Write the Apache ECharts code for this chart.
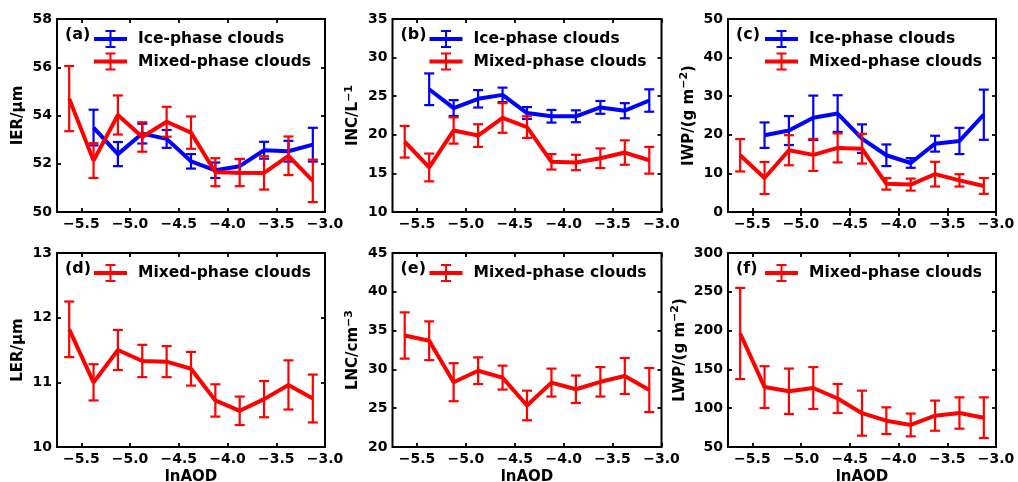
<!DOCTYPE html>
<html>
<head>
<meta charset="utf-8">
<script src="https://cdn.jsdelivr.net/npm/echarts@6/dist/echarts.min.js"></script>
<style>
  html, body { margin: 0; padding: 0; background: #fff; }
  #chart { width: 1018px; height: 482px; }
</style>
</head>
<body>
<div id="chart"></div>
<script>
// Bin centres of ln(AOD) and the tick labels shown on every x axis
const lnAOD = [-5.625, -5.375, -5.125, -4.875, -4.625, -4.375, -4.125, -3.875, -3.625, -3.375, -3.125];
const xTicks = [-5.5, -5.0, -4.5, -4.0, -3.5, -3.0];

// (a) ice effective radius, µm
const ierIce      = [null, 53.50, 52.40, 53.25, 53.03, 52.10, 51.73, 51.90, 52.56, 52.52, 52.79];
const ierIceErr   = [null, 0.74, 0.50, 0.41, 0.37, 0.30, 0.32, 0.30, 0.35, 0.43, 0.70];
const ierMixed    = [54.70, 52.13, 54.02, 53.11, 53.74, 53.29, 51.65, 51.63, 51.62, 52.33, 51.29];
const ierMixedErr = [1.35, 0.72, 0.81, 0.61, 0.62, 0.67, 0.58, 0.56, 0.69, 0.80, 0.88];

// (b) ice number concentration, L^-1
const incIce      = [null, 25.90, 23.46, 24.66, 25.17, 22.82, 22.40, 22.40, 23.55, 23.12, 24.44];
const incIceErr   = [null, 2.05, 1.03, 1.13, 0.94, 0.77, 0.82, 0.77, 0.83, 0.98, 1.45];
const incMixed    = [19.10, 15.77, 20.56, 19.90, 22.18, 21.00, 16.50, 16.41, 16.97, 17.70, 16.70];
const incMixedErr = [2.05, 1.80, 1.70, 1.47, 1.92, 1.40, 1.00, 1.00, 1.27, 1.58, 1.73];

// (c) ice water path, g m^-2
const iwpIce      = [null, 19.9, 21.1, 24.4, 25.5, 19.0, 14.7, 12.7, 17.7, 18.4, 25.2];
const iwpIceErr   = [null, 3.3, 3.75, 5.75, 4.75, 3.7, 2.8, 1.25, 2.05, 3.4, 6.5];
const iwpMixed    = [14.7, 8.8, 16.0, 14.8, 16.6, 16.4, 7.3, 7.1, 9.8, 8.2, 6.75];
const iwpMixedErr = [4.2, 4.15, 3.9, 4.15, 3.75, 3.85, 1.5, 1.55, 3.2, 1.6, 2.05];

// (d) liquid effective radius, µm
const lerMixed    = [11.82, 11.00, 11.50, 11.33, 11.32, 11.21, 10.72, 10.56, 10.74, 10.96, 10.75];
const lerMixedErr = [0.43, 0.28, 0.31, 0.25, 0.24, 0.26, 0.25, 0.22, 0.28, 0.38, 0.37];

// (e) liquid number concentration, cm^-3
const lncMixed    = [34.37, 33.69, 28.35, 29.83, 28.94, 25.35, 28.30, 27.44, 28.40, 29.15, 27.34];
const lncMixedErr = [2.98, 2.50, 2.45, 1.72, 1.54, 1.91, 1.80, 1.77, 1.90, 2.32, 2.84];

// (f) liquid water path, g m^-2
const lwpMixed    = [196.3, 127.2, 121.8, 126.0, 112.5, 93.6, 83.9, 78.4, 90.4, 93.8, 87.8];
const lwpMixedErr = [58.7, 26.9, 29.3, 27.0, 18.7, 29.0, 17.2, 14.7, 19.4, 20.2, 26.2];

const ICE = 'Ice-phase clouds';
const MIXED = 'Mixed-phase clouds';
const BLUE = '#0000ff';
const RED = '#ff0000';
const FONT = '"DejaVu Sans", sans-serif';

// y-axis titles; {s|...} marks a superscript run
const panels = [
  { tag: '(a)', yName: 'IER/μm', yMin: 50, yMax: 58, yStep: 2,
    lines: [{ name: ICE, color: BLUE, v: ierIce, e: ierIceErr }, { name: MIXED, color: RED, v: ierMixed, e: ierMixedErr }] },
  { tag: '(b)', yName: 'INC/L{s|\u22121}', yMin: 10, yMax: 35, yStep: 5,
    lines: [{ name: ICE, color: BLUE, v: incIce, e: incIceErr }, { name: MIXED, color: RED, v: incMixed, e: incMixedErr }] },
  { tag: '(c)', yName: 'IWP/(g m{s|\u22122})', yMin: 0, yMax: 50, yStep: 10,
    lines: [{ name: ICE, color: BLUE, v: iwpIce, e: iwpIceErr }, { name: MIXED, color: RED, v: iwpMixed, e: iwpMixedErr }] },
  { tag: '(d)', yName: 'LER/μm', yMin: 10, yMax: 13, yStep: 1,
    lines: [{ name: MIXED, color: RED, v: lerMixed, e: lerMixedErr }] },
  { tag: '(e)', yName: 'LNC/cm{s|\u22123}', yMin: 20, yMax: 45, yStep: 5,
    lines: [{ name: MIXED, color: RED, v: lncMixed, e: lncMixedErr }] },
  { tag: '(f)', yName: 'LWP/(g m{s|\u22122})', yMin: 50, yMax: 300, yStep: 50,
    lines: [{ name: MIXED, color: RED, v: lwpMixed, e: lwpMixedErr }] }
];

// plot-area boxes, 3 columns x 2 rows
const colLeft = [57, 392.5, 728];
const colWidth = [268, 269, 268];
const rowTop = [19, 253];
const rowHeight = [193, 194];

// legend glyph: horizontal line crossed by a capped error bar (33 x 18 box)
const errIcon = 'path://M0,7.1h33v3.8h-33z M15.5,0h2v18h-2z M11.5,0h10v2h-10z M11.5,16h10v2h-10z';

function fmtX(v) {
  return (v < 0 ? '\u2212' : '') + Math.abs(v).toFixed(1);
}

function errorBars(color) {
  return function (params, api) {
    const x = api.value(0);
    const lo = api.coord([x, api.value(1)]);
    const hi = api.coord([x, api.value(2)]);
    const cap = 5;
    const style = { stroke: color, lineWidth: 2.2, fill: null };
    return {
      type: 'group',
      children: [
        { type: 'line', shape: { x1: lo[0], y1: lo[1], x2: hi[0], y2: hi[1] }, style },
        { type: 'line', shape: { x1: lo[0] - cap, y1: lo[1], x2: lo[0] + cap, y2: lo[1] }, style },
        { type: 'line', shape: { x1: hi[0] - cap, y1: hi[1], x2: hi[0] + cap, y2: hi[1] }, style }
      ]
    };
  };
}

const grid = [], xAxis = [], yAxis = [], series = [], legend = [], title = [];
const tickStyle = { inside: true, length: 4, lineStyle: { color: '#000', width: 1.8 } };
const nameStyle = {
  fontFamily: FONT, fontWeight: 'bold', fontSize: 15, color: '#000', lineHeight: 20,
  rich: { s: { fontFamily: FONT, fontWeight: 'bold', fontSize: 11, color: '#000', lineHeight: 11, verticalAlign: 'top' } }
};

panels.forEach((p, k) => {
  const col = k % 3, row = Math.floor(k / 3);
  const left = colLeft[col], top = rowTop[row];
  grid.push({
    left: left, top: top, width: colWidth[col], height: rowHeight[row],
    outerBoundsMode: 'none', containLabel: false,
    show: true, borderColor: '#000', borderWidth: 2, backgroundColor: 'transparent'
  });

  // bottom x axis with labels, top x axis with ticks only
  xAxis.push({
    type: 'value', gridIndex: k, min: -5.75, max: -3.0, position: 'bottom',
    axisLine: { show: false }, splitLine: { show: false },
    axisTick: Object.assign({ customValues: xTicks }, tickStyle),
    axisLabel: {
      customValues: xTicks, formatter: fmtX, margin: 5,
      fontFamily: FONT, fontWeight: 'bold', fontSize: 14, color: '#000'
    },
    name: row === 1 ? 'lnAOD' : '', nameLocation: 'middle', nameGap: 23,
    nameTextStyle: { fontFamily: FONT, fontWeight: 'bold', fontSize: 15, color: '#000' }
  });
  xAxis.push({
    type: 'value', gridIndex: k, min: -5.75, max: -3.0, position: 'top',
    axisLine: { show: false }, splitLine: { show: false },
    axisTick: Object.assign({ customValues: xTicks }, tickStyle),
    axisLabel: { show: false }
  });

  // left y axis with labels and name, right y axis with ticks only
  yAxis.push({
    type: 'value', gridIndex: k, min: p.yMin, max: p.yMax, interval: p.yStep, position: 'left',
    axisLine: { show: false }, splitLine: { show: false },
    axisTick: tickStyle,
    axisLabel: { margin: 5, fontFamily: FONT, fontWeight: 'bold', fontSize: 14, color: '#000' },
    name: p.yName, nameLocation: 'middle', nameRotate: 90, nameGap: 29,
    nameTextStyle: nameStyle
  });
  yAxis.push({
    type: 'value', gridIndex: k, min: p.yMin, max: p.yMax, interval: p.yStep, position: 'right',
    axisLine: { show: false }, splitLine: { show: false },
    axisTick: tickStyle, axisLabel: { show: false }
  });

  p.lines.forEach((s, j) => {
    const pts = [], bars = [];
    lnAOD.forEach((x, i) => {
      if (s.v[i] == null) return;
      pts.push([x, s.v[i]]);
      bars.push([x, s.v[i] - s.e[i], s.v[i] + s.e[i]]);
    });
    series.push({
      type: 'line', name: s.name, xAxisIndex: 2 * k, yAxisIndex: 2 * k,
      data: pts, symbol: 'none', z: 2 + 2 * j,
      lineStyle: { color: s.color, width: 4 }, itemStyle: { color: s.color },
      animation: false, silent: true
    });
    series.push({
      type: 'custom', xAxisIndex: 2 * k, yAxisIndex: 2 * k,
      data: bars, renderItem: errorBars(s.color), z: 3 + 2 * j,
      encode: { x: 0, y: [1, 2] }, animation: false, silent: true
    });
  });

  legend.push({
    orient: 'vertical', left: left + 37, top: top + 11,
    itemWidth: 33, itemHeight: 18, itemGap: 4.5, icon: errIcon, selectedMode: false,
    padding: 0,
    data: p.lines.map(s => ({ name: s.name, itemStyle: { color: s.color, borderWidth: 0 } })),
    textStyle: { fontFamily: FONT, fontWeight: 'bold', fontSize: 15.5, color: '#000', padding: [0, 0, 0, 6] }
  });

  title.push({
    text: p.tag, left: left + 8, top: top + 8, padding: 0,
    textStyle: { fontFamily: FONT, fontWeight: 'bold', fontSize: 16, color: '#000' }
  });
});

const chart = echarts.init(document.getElementById('chart'), null, { renderer: 'canvas' });
chart.setOption({
  animation: false,
  backgroundColor: '#fff',
  title, legend, grid, xAxis, yAxis, series
});
</script>
</body>
</html>
